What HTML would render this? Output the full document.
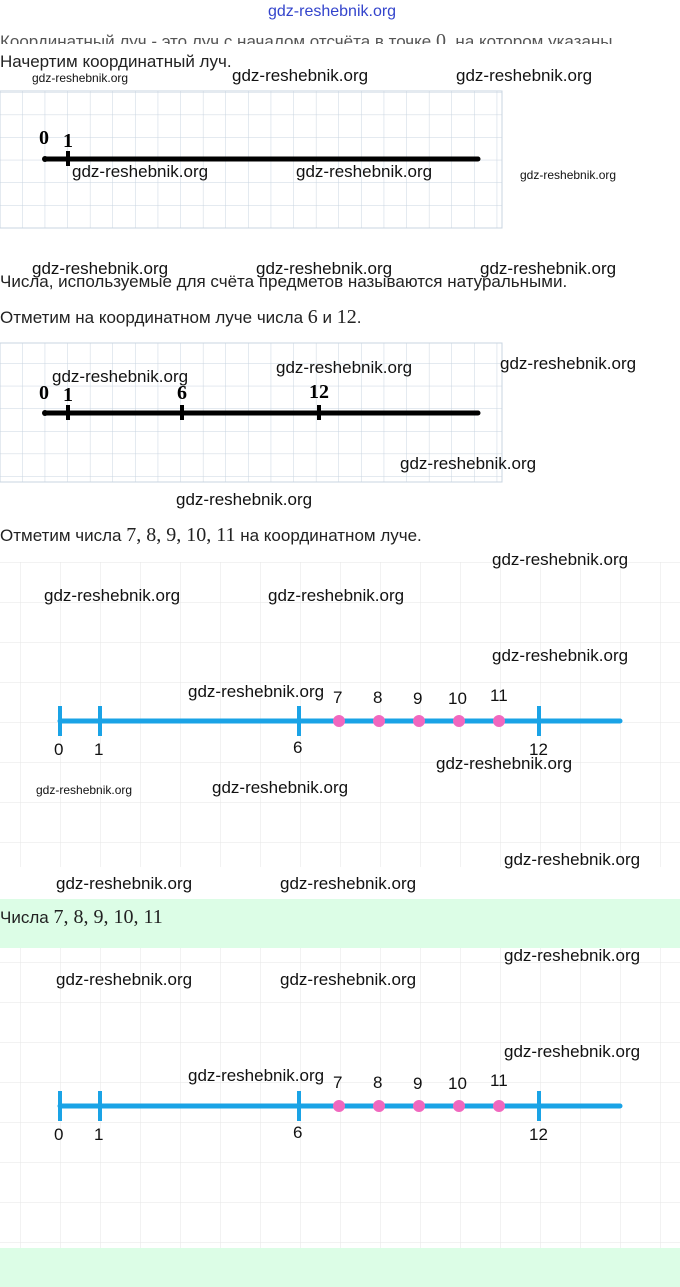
<!DOCTYPE html>
<html><head><meta charset="utf-8"><style>
body{margin:0;width:680px;height:1287px;position:relative;background:#fff;overflow:hidden;font-family:"Liberation Sans",sans-serif}
.t{position:absolute;white-space:nowrap;color:#222;font-size:17px}
.w{position:absolute;white-space:nowrap;color:#111;font-family:"Liberation Sans Narrow","Liberation Sans",sans-serif;font-size:17px}
.s{font-size:12px}
.m{font-family:"Liberation Serif",serif;font-size:20px}
svg{position:absolute;left:0;top:0}
</style></head><body>
<div style="position:absolute;left:0;top:899px;width:680px;height:49px;background:#dcfde6"></div>
<div style="position:absolute;left:0;top:1248px;width:680px;height:39px;background:#dcfde6"></div>
<svg width="680" height="1287">
<defs>
<pattern id="g1" x="0" y="92" width="22.6" height="22.6" patternUnits="userSpaceOnUse"><path d="M22.6 0V22.6M0 0H22.6" stroke="#c9d4e0" stroke-width="1" fill="none"/></pattern>
<pattern id="g2" x="20" y="2" width="40" height="40" patternUnits="userSpaceOnUse"><path d="M0 0V40M0 0H40" stroke="#e6e6e6" stroke-width="1" fill="none"/></pattern>
</defs>
<rect x="0" y="91" width="502" height="137" fill="url(#g1)" stroke="#c9d4e0"/>
<rect x="0" y="343" width="502" height="139" fill="url(#g1)" stroke="#c9d4e0" transform="translate(0,0)"/>
<rect x="0" y="562" width="680" height="305" fill="url(#g2)"/>
<rect x="0" y="948" width="680" height="300" fill="url(#g2)"/>
<!-- diagram 1 -->
<line x1="45" y1="159" x2="478" y2="159" stroke="#000" stroke-width="5" stroke-linecap="round"/>
<line x1="68" y1="151" x2="68" y2="166" stroke="#000" stroke-width="4"/>
<circle cx="45" cy="159" r="3" fill="#000"/>
<!-- diagram 2 -->
<line x1="45" y1="413" x2="478" y2="413" stroke="#000" stroke-width="5" stroke-linecap="round"/>
<g stroke="#000" stroke-width="4"><line x1="68" y1="405" x2="68" y2="420"/><line x1="182" y1="405" x2="182" y2="420"/><line x1="319" y1="405" x2="319" y2="420"/></g>
<circle cx="45" cy="413" r="3" fill="#000"/>
<!-- blue 1 -->
<g id="b1">
<line x1="60" y1="721" x2="620" y2="721" stroke="#1aa3e6" stroke-width="5" stroke-linecap="round"/>
<g stroke="#1aa3e6" stroke-width="4"><line x1="60" y1="706" x2="60" y2="736"/><line x1="100" y1="706" x2="100" y2="736"/><line x1="299" y1="706" x2="299" y2="736"/><line x1="539" y1="706" x2="539" y2="736"/></g>
<g fill="#f068bf"><circle cx="339" cy="721" r="6"/><circle cx="379" cy="721" r="6"/><circle cx="419" cy="721" r="6"/><circle cx="459" cy="721" r="6"/><circle cx="499" cy="721" r="6"/></g>
</g>
<use href="#b1" y="385"/>
</svg>
<div class="t" style="left:268px;top:3px;color:#3344cc;font-size:16px">gdz-reshebnik.org</div>
<div class="t" style="left:0;top:30px;color:#555;height:14px;overflow:hidden">Координатный луч - это луч с началом отсчёта в точке <span class="m">0</span>, на котором указаны</div>
<div class="t" style="left:0;top:52px">Начертим координатный луч.</div>
<div class="w s" style="left:32px;top:71px">gdz-reshebnik.org</div>
<div class="w" style="left:232px;top:66px">gdz-reshebnik.org</div>
<div class="w" style="left:456px;top:66px">gdz-reshebnik.org</div>
<div class="t m" style="left:39px;top:127px;font-weight:bold;color:#000">0</div>
<div class="t m" style="left:63px;top:130px;font-weight:bold;color:#000">1</div>
<div class="w" style="left:72px;top:162px">gdz-reshebnik.org</div>
<div class="w" style="left:296px;top:162px">gdz-reshebnik.org</div>
<div class="w s" style="left:520px;top:168px">gdz-reshebnik.org</div>
<div class="w" style="left:32px;top:259px">gdz-reshebnik.org</div>
<div class="w" style="left:256px;top:259px">gdz-reshebnik.org</div>
<div class="w" style="left:480px;top:259px">gdz-reshebnik.org</div>
<div class="t" style="left:0;top:272px">Числа, используемые для счёта предметов называются натуральными.</div>
<div class="t" style="left:0;top:306px">Отметим на координатном луче числа <span class="m">6</span> и <span class="m">12</span>.</div>
<div class="w" style="left:500px;top:354px">gdz-reshebnik.org</div>
<div class="w" style="left:276px;top:358px">gdz-reshebnik.org</div>
<div class="w" style="left:52px;top:367px">gdz-reshebnik.org</div>
<div class="t m" style="left:39px;top:382px;font-weight:bold;color:#000">0</div>
<div class="t m" style="left:63px;top:384px;font-weight:bold;color:#000">1</div>
<div class="t m" style="left:177px;top:382px;font-weight:bold;color:#000">6</div>
<div class="t m" style="left:309px;top:381px;font-weight:bold;color:#000">12</div>
<div class="w" style="left:400px;top:454px">gdz-reshebnik.org</div>
<div class="w" style="left:176px;top:490px">gdz-reshebnik.org</div>
<div class="t" style="left:0;top:524px">Отметим числа <span class="m">7, 8, 9, 10, 11</span> на координатном луче.</div>
<div class="w" style="left:492px;top:550px">gdz-reshebnik.org</div>
<div class="w" style="left:44px;top:586px">gdz-reshebnik.org</div>
<div class="w" style="left:268px;top:586px">gdz-reshebnik.org</div>
<div class="w" style="left:492px;top:646px">gdz-reshebnik.org</div>
<div class="w" style="left:188px;top:682px">gdz-reshebnik.org</div>
<div class="t" style="left:333px;top:688px;color:#111">7</div><div class="t" style="left:373px;top:688px;color:#111">8</div><div class="t" style="left:413px;top:689px;color:#111">9</div><div class="t" style="left:448px;top:689px;color:#111">10</div><div class="t" style="left:490px;top:686px;color:#111">11</div>
<div class="t" style="left:54px;top:740px;color:#111">0</div><div class="t" style="left:94px;top:740px;color:#111">1</div><div class="t" style="left:293px;top:738px;color:#111">6</div><div class="t" style="left:529px;top:740px;color:#111">12</div>
<div class="w" style="left:436px;top:754px">gdz-reshebnik.org</div>
<div class="w s" style="left:36px;top:783px">gdz-reshebnik.org</div>
<div class="w" style="left:212px;top:778px">gdz-reshebnik.org</div>
<div class="w" style="left:504px;top:850px">gdz-reshebnik.org</div>
<div class="w" style="left:56px;top:874px">gdz-reshebnik.org</div>
<div class="w" style="left:280px;top:874px">gdz-reshebnik.org</div>
<div class="t" style="left:0;top:906px">Числа <span class="m">7, 8, 9, 10, 11</span></div>
<div class="w" style="left:504px;top:946px">gdz-reshebnik.org</div>
<div class="w" style="left:56px;top:970px">gdz-reshebnik.org</div>
<div class="w" style="left:280px;top:970px">gdz-reshebnik.org</div>
<div class="w" style="left:504px;top:1042px">gdz-reshebnik.org</div>
<div class="w" style="left:188px;top:1066px">gdz-reshebnik.org</div>
<div class="t" style="left:333px;top:1073px;color:#111">7</div><div class="t" style="left:373px;top:1073px;color:#111">8</div><div class="t" style="left:413px;top:1074px;color:#111">9</div><div class="t" style="left:448px;top:1074px;color:#111">10</div><div class="t" style="left:490px;top:1071px;color:#111">11</div>
<div class="t" style="left:54px;top:1125px;color:#111">0</div><div class="t" style="left:94px;top:1125px;color:#111">1</div><div class="t" style="left:293px;top:1123px;color:#111">6</div><div class="t" style="left:529px;top:1125px;color:#111">12</div>
</body></html>
